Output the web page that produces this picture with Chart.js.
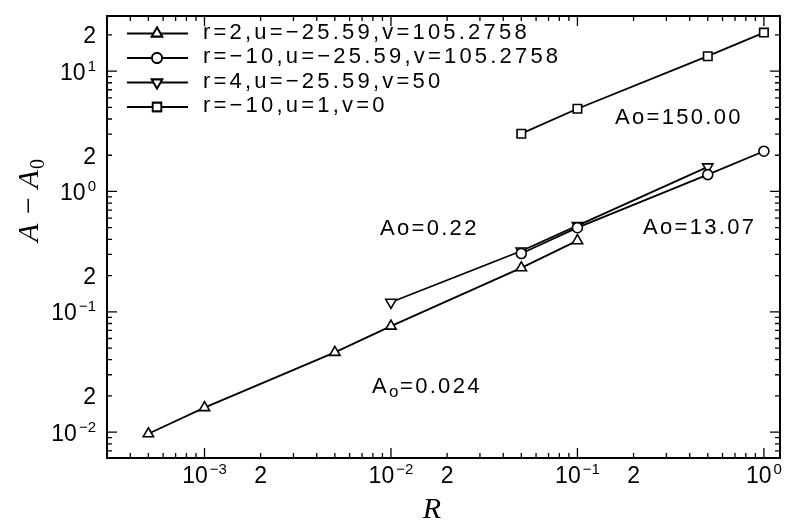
<!DOCTYPE html>
<html>
<head>
<meta charset="utf-8">
<script src="https://cdn.jsdelivr.net/npm/chart.js@4/dist/chart.umd.min.js"></script>
<style>
html, body { margin: 0; background: #fff; }
#wrap { width: 793px; height: 528px; }
</style>
</head>
<body>
<div id="wrap"><canvas id="c"></canvas></div>
<script>
// values (log-log)
const seriesLabels = [
    "r=2,u=\u221225.59,v=105.2758",
    "r=\u221210,u=\u221225.59,v=105.2758",
    "r=4,u=\u221225.59,v=50",
    "r=\u221210,u=1,v=0"
];
const rUp = [0.0005, 0.001, 0.005, 0.01, 0.05, 0.1];
const aUp = [0.0097, 0.016, 0.046, 0.076, 0.232, 0.39];
const rCircle = [0.05, 0.1, 0.5, 1.0];
const aCircle = [0.305, 0.5, 1.38, 2.16];
const rDown = [0.01, 0.05, 0.1, 0.5];
const aDown = [0.12, 0.32, 0.52, 1.6];
const rSquare = [0.05, 0.1, 0.5, 1.0];
const aSquare = [3.02, 4.87, 13.3, 20.9];

// labelled ticks ("10^e" is drawn with a raised exponent)
const xTickValues = [0.001, 0.002, 0.01, 0.02, 0.1, 0.2, 1];
const xTickLabels = ["10^\u22123", "2", "10^\u22122", "2", "10^\u22121", "2", "10^0"];
const yTickValues = [0.01, 0.02, 0.1, 0.2, 1, 2, 10, 20];
const yTickLabels = ["10^\u22122", "2", "10^\u22121", "2", "10^0", "2", "10^1", "2"];

const xRange = [3.1e-4, 1.22];
const yRange = [6.1e-3, 28.7];

// text placed on the plot
const notes = [
    { text: "Ao=150.00", x: 615, y: 124 },
    { text: "Ao=0.22", x: 380, y: 235 },
    { text: "Ao=13.07", x: 643, y: 234 }
];

const FONT = "'Liberation Sans', Arial, sans-serif";

function pts(xs, ys) {
    return xs.map((x, i) => ({ x: x, y: ys[i] }));
}

function allLogTicks(scale) {
    const out = [];
    const lo = Math.floor(Math.log10(scale.min));
    const hi = Math.ceil(Math.log10(scale.max));
    for (let d = lo; d <= hi; d++) {
        for (let m = 1; m <= 9; m++) {
            const v = m * Math.pow(10, d);
            if (v >= scale.min && v <= scale.max) out.push({ value: v });
        }
    }
    scale.ticks = out;
}

const styles = [
    { pointStyle: "triangle", rotation: 0, radius: 6 },
    { pointStyle: "circle", rotation: 0, radius: 5 },
    { pointStyle: "triangle", rotation: 180, radius: 6 },
    { pointStyle: "rect", rotation: 0, radius: 6 }
];

function makeSet(i, data) {
    return {
        label: seriesLabels[i],
        data: data,
        showLine: true,
        borderColor: "#000",
        backgroundColor: "#fff",
        borderWidth: 1.8,
        pointStyle: styles[i].pointStyle,
        rotation: styles[i].rotation,
        pointRadius: styles[i].radius,
        pointBorderWidth: 1.6,
        pointBackgroundColor: "#fff",
        pointBorderColor: "#000"
    };
}

function tickLen(v) {
    const m = Math.round(v / Math.pow(10, Math.floor(Math.log10(v) + 1e-9)));
    return m === 1 ? 10 : 5;
}

// tick label with optional superscript exponent
function drawPow(ctx, label, x, y, align) {
    const parts = label.split("^");
    ctx.font = "23px " + FONT;
    const wb = ctx.measureText(parts[0]).width;
    let we = 0;
    if (parts.length > 1) {
        ctx.font = "15px " + FONT;
        we = ctx.measureText(parts[1]).width + 2;
    }
    const total = wb + we;
    const x0 = align === "center" ? x - total / 2 : x - total;
    ctx.textAlign = "left";
    ctx.font = "23px " + FONT;
    ctx.fillText(parts[0], x0, y);
    if (parts.length > 1) {
        ctx.font = "15px " + FONT;
        ctx.fillText(parts[1], x0 + wb + 2, y - 9);
    }
}

// frame, inward ticks, tick labels, legend, notes and axis titles
const decor = {
    id: "decor",
    afterDraw(chart) {
        const ctx = chart.ctx;
        const a = chart.chartArea;
        const xs = chart.scales.x, ys = chart.scales.y;
        ctx.save();
        ctx.strokeStyle = "#000";
        ctx.fillStyle = "#000";
        ctx.lineWidth = 2;
        ctx.strokeRect(a.left, a.top, a.right - a.left, a.bottom - a.top);

        ctx.lineWidth = 1.3;
        xs.ticks.forEach(t => {
            const p = xs.getPixelForValue(t.value);
            const len = tickLen(t.value);
            ctx.beginPath();
            ctx.moveTo(p, a.bottom); ctx.lineTo(p, a.bottom - len);
            ctx.moveTo(p, a.top); ctx.lineTo(p, a.top + len);
            ctx.stroke();
        });
        ys.ticks.forEach(t => {
            const p = ys.getPixelForValue(t.value);
            const len = tickLen(t.value);
            ctx.beginPath();
            ctx.moveTo(a.left, p); ctx.lineTo(a.left + len, p);
            ctx.moveTo(a.right, p); ctx.lineTo(a.right - len, p);
            ctx.stroke();
        });

        ctx.textBaseline = "alphabetic";
        xTickValues.forEach((v, i) => {
            drawPow(ctx, xTickLabels[i], xs.getPixelForValue(v), a.bottom + 25, "center");
        });
        yTickValues.forEach((v, i) => {
            drawPow(ctx, yTickLabels[i], a.left - 11, ys.getPixelForValue(v) + 8.5, "right");
        });

        // legend
        ctx.font = "22px " + FONT;
        ctx.letterSpacing = "3.2px";
        ctx.textAlign = "left";
        chart.data.datasets.forEach((ds, i) => {
            const y = 33.5 + i * 24.5;
            ctx.lineWidth = 1.8;
            ctx.beginPath();
            ctx.moveTo(127, y); ctx.lineTo(188, y);
            ctx.stroke();
            ctx.fillStyle = "#fff";
            Chart.helpers.drawPoint(ctx, {
                pointStyle: ds.pointStyle, rotation: ds.rotation,
                radius: ds.pointRadius, borderWidth: 1.6
            }, 157, y);
            ctx.fill();
            ctx.stroke();
            ctx.fillStyle = "#000";
            ctx.fillText(ds.label, 203, y + 5);
        });

        // notes
        ctx.letterSpacing = "2.3px";
        notes.forEach(n => ctx.fillText(n.text, n.x, n.y));
        ctx.fillText("A", 372, 393);
        ctx.font = "17px " + FONT;
        ctx.fillText("o", 389, 397);
        ctx.font = "22px " + FONT;
        ctx.fillText("=0.024", 400, 393);

        // axis titles
        ctx.letterSpacing = "0px";
        ctx.font = "italic 30px 'Liberation Serif', 'Times New Roman', serif";
        ctx.textAlign = "center";
        ctx.fillText("R", 432, 518);

        ctx.translate(38, 200);
        ctx.rotate(-Math.PI / 2);
        ctx.textAlign = "left";
        const main = "A \u2212 A";
        const w = ctx.measureText(main).width;
        ctx.fillText(main, -w / 2 - 6, 0);
        ctx.font = "20px 'Liberation Serif', 'Times New Roman', serif";
        ctx.fillText("0", w / 2 - 5, 6);
        ctx.restore();
    }
};

new Chart(document.getElementById("c").getContext("2d"), {
    type: "scatter",
    data: {
        datasets: [
            makeSet(0, pts(rUp, aUp)),
            makeSet(1, pts(rCircle, aCircle)),
            makeSet(2, pts(rDown, aDown)),
            makeSet(3, pts(rSquare, aSquare))
        ]
    },
    options: {
        responsive: true,
        maintainAspectRatio: false,
        animation: false,
        layout: { padding: { top: 16, right: 13, left: 0, bottom: 0 } },
        plugins: { legend: { display: false }, tooltip: { enabled: false } },
        scales: {
            x: {
                type: "logarithmic",
                min: xRange[0],
                max: xRange[1],
                afterBuildTicks: allLogTicks,
                afterFit(s) { s.height = 70; s.paddingLeft = 0; s.paddingRight = 0; },
                grid: { display: false, drawTicks: false },
                border: { display: false },
                ticks: { display: false }
            },
            y: {
                type: "logarithmic",
                min: yRange[0],
                max: yRange[1],
                afterBuildTicks: allLogTicks,
                afterFit(s) { s.width = 107; s.paddingTop = 0; s.paddingBottom = 0; },
                grid: { display: false, drawTicks: false },
                border: { display: false },
                ticks: { display: false }
            }
        }
    },
    plugins: [decor]
});
</script>
</body>
</html>
